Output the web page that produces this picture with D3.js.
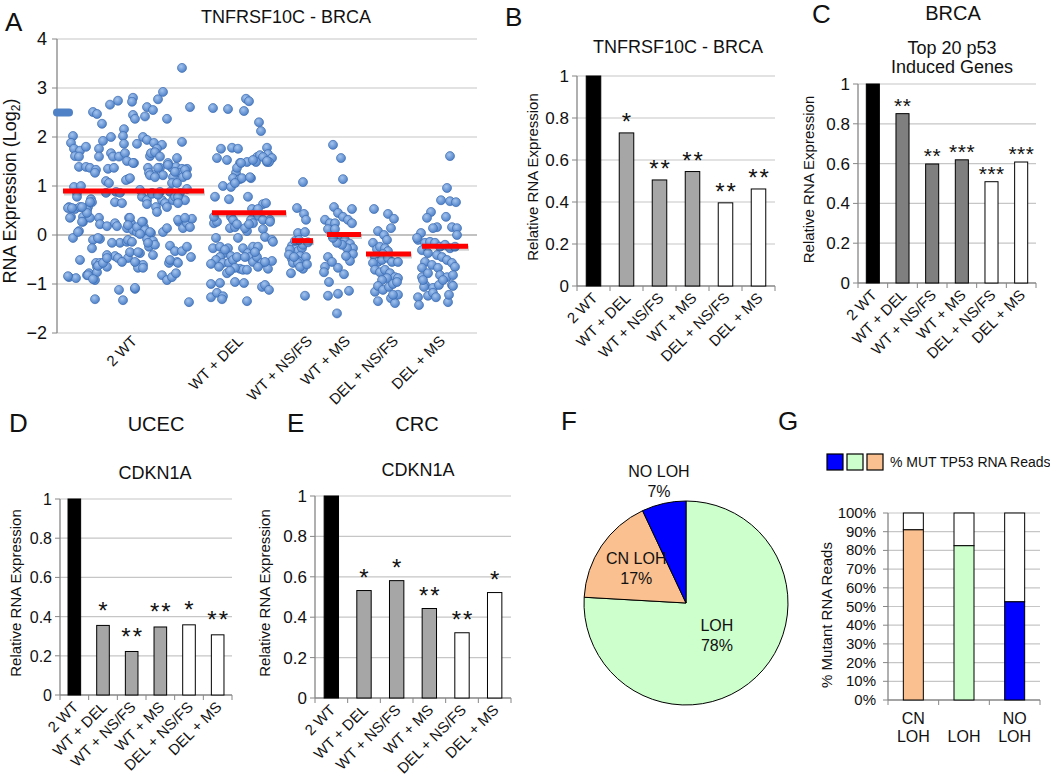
<!DOCTYPE html>
<html><head><meta charset="utf-8">
<script src="https://cdn.jsdelivr.net/npm/d3@7"></script>
<style>body{margin:0;background:#fff}svg{display:block}</style>
</head><body><svg id="c" width="1050" height="782"></svg>
<script>
// ---------------- DATA ----------------
const categories = ["2 WT","WT + DEL","WT + NS/FS","WT + MS","DEL + NS/FS","DEL + MS"];

// Panel A: scatter points [sample position, log2 expression]
const ptsWT2 = [[132,3.41],[113,2.92],[108,2.77],[83,2.80],[82,2.72],[68,2.74],[60,2.66],[140,2.61],[97,2.61],[103,2.55],[43,2.51],[47,2.47],[83,2.45],[85,2.37],[95,2.42],[117,2.37],[52,2.27],[74,2.16],[23,2.02],[61,2.0],[73,2.02],[93,2.0],[97,1.94],[21,1.88],[53,1.92],[74,1.86],[87,1.86],[104,1.88],[112,1.84],[107,1.76],[132,1.90],[24,1.76],[30,1.72],[36,1.80],[49,1.76],[49,1.60],[61,1.67],[63,1.60],[69,1.60],[75,1.67],[77,1.51],[84,1.47],[25,1.61],[29,1.60],[100,1.61],[101,1.67],[105,1.69],[110,1.60],[127,1.57],[118,1.47],[122,1.37],[126,1.39],[29,1.39],[36,1.39],[40,1.37],[46,1.33],[45,1.27],[58,1.35],[64,1.37],[98,1.37],[99,1.27],[104,1.22],[110,1.37],[137,1.35],[132,1.35],[130,1.27],[113,1.22],[123,1.18],[133,1.18],[78,1.14],[76,1.12],[56,1.10],[59,1.06],[122,1.06],[127,1.06],[24,0.98],[31,1.0],[27,0.86],[56,0.86],[66,0.88],[70,0.86],[90,0.92],[102,0.86],[110,0.88],[120,0.88],[130,0.86],[137,0.94],[27,0.78],[92,0.78],[97,0.71],[135,0.71],[41,0.73],[42,0.67],[65,0.67],[72,0.65],[97,0.63],[112,0.71],[115,0.65],[117,0.57],[123,0.71],[125,0.78],[19,0.57],[25,0.53],[30,0.57],[38,0.57],[37,0.51],[106,0.57],[107,0.47],[21,0.37],[33,0.37],[33,0.27],[40,0.35],[37,0.45],[49,0.35],[50,0.22],[57,0.18],[65,0.24],[67,0.18],[79,0.35],[81,0.24],[93,0.27],[94,0.16],[89,0.12],[77,0.14],[83,0.10],[87,0.06],[129,0.27],[133,0.14],[137,0.24],[142,0.33],[140,0.16],[29,0.08],[101,0.04],[113,0.06],[23,-0.06],[43,-0.10],[50,-0.08],[70,-0.16],[77,-0.14],[97,-0.08],[103,-0.12],[99,-0.24],[105,-0.20],[42,-0.27],[120,-0.22],[125,-0.33],[132,-0.33],[137,-0.24],[65,-0.43],[68,-0.47],[57,-0.41],[103,-0.41],[30,-0.51],[78,-0.47],[72,-0.55],[90,-0.37],[141,-0.45],[46,-0.57],[47,-0.65],[50,-0.57],[57,-0.65],[87,-0.59],[93,-0.61],[88,-0.67],[119,-0.57],[127,-0.55],[37,-0.82],[39,-0.78],[47,-0.76],[45,-0.92],[19,-0.86],[26,-0.88],[112,-0.82],[117,-0.92],[122,-0.86],[126,-0.78],[45,-1.31],[69,-1.12],[73,-1.33],[85,-1.10],[139,-1.37],
 [108,1.37],[118,1.43],[125,1.29],[135,1.33],[137,1.22],[100,1.22],[105,1.18],[83,1.47],[80,1.16],[102,0.84],[108,0.82],[128,0.78],[128,0.65],[128,0.31],[135,0.35],[80,0.35],[78,0.2],[87,0.16],[92,0.27],[95,0.1],[90,0.02],[100,0.06],[117,0.14],[78,-0.1],[82,-0.14],[80,-0.35],[88,-0.35],[98,-0.16],[120,-0.51],[128,-0.57],[85,-0.55],[93,-0.67],[85,-1.08],[18,0.55],[22,0.55],[32,0.57],[40,0.67],[20,0.35],[32,0.27],[28,0.06],[48,-0.06],[62,-0.16],[48,-0.63],[53,-0.57],[57,-0.47],[38,-0.82],[43,-0.9],[18,-0.84]];
const ptsWTDEL = [[196,2.78],[199,2.73],[163,2.59],[178,2.57],[194,2.53],[209,2.30],[211,2.12],[171,1.76],[182,1.78],[188,1.76],[217,1.78],[218,1.65],[167,1.57],[177,1.53],[190,1.47],[197,1.49],[207,1.59],[210,1.63],[213,1.59],[217,1.49],[222,1.57],[219,1.49],[186,1.27],[183,1.16],[190,1.14],[201,1.16],[187,1.37],[173,1.0],[181,0.98],[185,1.06],[165,0.78],[179,0.73],[198,0.78],[213,0.63],[202,0.53],[206,0.47],[208,0.39],[220,0.31],[213,0.31],[164,0.24],[167,0.27],[181,0.37],[183,0.31],[180,0.14],[185,0.16],[187,0.22],[197,0.08],[201,0.31],[203,0.24],[213,0.12],[215,-0.04],[222,-0.10],[166,-0.06],[188,-0.06],[163,-0.27],[170,-0.24],[174,-0.37],[178,-0.27],[181,-0.43],[170,-0.45],[166,-0.51],[173,-0.57],[179,-0.57],[183,-0.51],[187,-0.45],[161,-0.59],[169,-0.65],[193,-0.27],[198,-0.37],[203,-0.24],[208,-0.24],[200,-0.45],[195,-0.45],[203,-0.55],[207,-0.45],[212,-0.57],[218,-0.69],[222,-0.53],[208,-0.65],[190,-0.69],[193,-0.71],[197,-0.71],[185,-0.67],[177,-0.78],[180,-0.73],[161,-1.0],[170,-0.98],[161,-1.27],[167,-1.18],[173,-1.25],[172,-1.31],[185,-0.96],[194,-0.98],[197,-1.35],[212,-1.06],[215,-1.02],[219,-1.12],
 [217,1.51],[206,1.49],[203,1.53],[191,1.47],[192,1.16],[200,1.18],[216,0.65],[208,0.53],[220,0.27],[164,0.37],[195,0.14],[199,0.22],[223,-0.14],[175,-0.3],[215,-0.55],[205,-0.35]];
const ptsWTNS = [[253,1.08],[247,0.55],[254,0.43],[256,0.31],[248,0.04],[255,0.06],[242,-0.22],[243,-0.37],[246,-0.27],[248,-0.33],[252,-0.27],[250,-0.43],[253,-0.2],[242,-0.49],[247,-0.51],[251,-0.55],[243,-0.57],[248,-0.57],[253,-0.69],[241,-0.78],[250,-0.65],[255,-1.24],[240,-0.3],[245,-0.12],[258,-0.15],[256,-0.45],[239,-0.4],[244,-0.45],[249,-0.1],[257,-0.6]];
const ptsWTMS = [[283,1.84],[291,1.57],[293,1.14],[284,0.57],[288,0.45],[302,0.53],[293,0.37],[298,0.31],[302,0.24],[275,0.31],[280,0.24],[285,0.24],[278,0.12],[285,0.12],[290,-0.04],[295,-0.10],[300,-0.18],[303,-0.27],[297,-0.27],[292,-0.20],[287,-0.16],[283,-0.06],[303,-0.39],[300,-0.53],[296,-0.43],[278,-0.45],[275,-0.65],[274,-0.76],[282,-0.55],[288,-0.67],[294,-0.80],[279,-0.96],[278,-1.24],[288,-1.20],[299,-1.14],[287,-1.6]];
const ptsDELNS = [[324,0.53],[338,0.43],[344,0.33],[328,0.08],[334,0.0],[341,0.14],[337,-0.1],[323,-0.16],[327,-0.29],[330,-0.24],[335,-0.27],[338,-0.33],[333,-0.39],[325,-0.45],[328,-0.55],[332,-0.51],[338,-0.47],[342,-0.55],[348,-0.55],[323,-0.57],[325,-0.71],[330,-0.76],[335,-0.71],[340,-0.78],[345,-0.86],[348,-0.88],[337,-0.88],[332,-0.92],[325,-1.16],[328,-1.04],[328,-1.35],[333,-1.12],[339,-1.06],[343,-1.0],[347,-0.96],[341,-1.29],[345,-1.39],[348,-1.22],[343,-1.22]];
const ptsDELMS = [[400,1.61],[397,0.96],[391,0.71],[400,0.69],[406,0.67],[381,0.47],[377,0.35],[396,0.37],[387,0.16],[383,0.14],[402,0.16],[407,0.14],[407,0.0],[368,-0.1],[371,0.04],[367,-0.06],[375,-0.16],[380,-0.14],[385,-0.16],[390,-0.24],[395,-0.2],[400,-0.27],[405,-0.24],[372,-0.31],[378,-0.37],[387,-0.41],[392,-0.45],[397,-0.51],[402,-0.57],[405,-0.65],[375,-0.55],[382,-0.61],[388,-0.67],[372,-0.67],[372,-0.86],[378,-0.78],[390,-0.82],[397,-0.86],[403,-0.82],[402,-1.02],[375,-1.02],[383,-1.08],[368,-1.27],[369,-1.43],[374,-1.06],[378,-1.24],[383,-1.18],[386,-1.27],[389,-1.02],[398,-1.37],[399,-1.22],[403,-1.04],[393,-0.92],[373,-0.92]];
// Panel A group means and their horizontal extents (sample position units)
const meanValsA  = [0.90, 0.455, -0.115, 0.01, -0.39, -0.23];
const meanFromA  = [13, 162, 242, 277, 316, 372];
const meanToA    = [154, 236, 263, 311, 361, 418];
const labelPosA  = [88, 194, 263, 301, 349, 396];
const yTicksA    = [-2, -1, 0, 1, 2, 3, 4];

// Panels B-E: relative RNA expression
const valsB  = [1, 0.729, 0.505, 0.545, 0.396, 0.462];
const starsB = ["", "*", "**", "**", "**", "**"];
const valsC  = [1, 0.851, 0.598, 0.619, 0.509, 0.608];
const starsC = ["", "**", "**", "***", "***", "***"];
const valsD  = [1, 0.355, 0.222, 0.347, 0.358, 0.307];
const starsD = ["", "*", "**", "**", "*", "**"];
const valsE  = [1, 0.532, 0.581, 0.443, 0.323, 0.522];
const starsE = ["", "*", "*", "**", "**", "*"];
const yTicksBar = [0, 0.2, 0.4, 0.6, 0.8, 1];

// Panel F: LOH status pie
const pieNames  = ["LOH", "CN LOH", "NO LOH"];
const pieValues = [75.9, 17.1, 7.0];
const pieLabels = ["78%", "17%", "7%"];

// Panel G: % mutant RNA reads
const gCats   = ["CN LOH", "LOH", "NO LOH"];
const gValues = [0.91, 0.825, 0.525];
const yTicksG = [0,0.1,0.2,0.3,0.4,0.5,0.6,0.7,0.8,0.9,1];

// ---------------- DRAW ----------------
const FONT = "'Liberation Sans', Arial, Helvetica, sans-serif";
const AX = "#868686", GR = "#c6c6c6", TX = "#111";
const svg = d3.select("#c").style("font-family", FONT);
svg.append("rect").attr("width",1050).attr("height",782).attr("fill","#fff");

const defs = svg.append("defs");
const rg = defs.append("radialGradient").attr("id","dot").attr("cx","40%").attr("cy","35%").attr("r","65%");
rg.append("stop").attr("offset","0%").attr("stop-color","#a4c4ee");
rg.append("stop").attr("offset","100%").attr("stop-color","#4d80c8");

function text(g, x, y, s, fs, anchor) {
  return g.append("text").attr("x",x).attr("y",y).attr("font-size",fs)
    .attr("text-anchor",anchor||"middle").attr("fill",TX).text(s);
}
function vtitle(g, x, y, s, fs) {
  return g.append("text").attr("transform",`translate(${x},${y}) rotate(-90)`)
    .attr("font-size",fs).attr("text-anchor","middle").attr("fill",TX).text(s);
}
// panel letters
[["A",5,31],["B",505,26],["C",812,23],["D",9,432],["E",287,432],["F",561,430],["G",778,430]]
  .forEach(([s,x,y]) => text(svg,x,y,s,26,"start"));

// ----- Panel A -----
(function(){
  const g = svg.append("g");
  const x = d3.scaleLinear([7, 427], [57, 477]);
  const y = d3.scaleLinear([-2, 4], [333, 39]);
  yTicksA.forEach(t => {
    g.append("line").attr("x1",57).attr("x2",477).attr("y1",y(t)).attr("y2",y(t))
      .attr("stroke", t===0 ? AX : GR).attr("stroke-width",1.2);
    g.append("line").attr("x1",52).attr("x2",57).attr("y1",y(t)).attr("y2",y(t)).attr("stroke",AX);
    text(g, 47, y(t)+6, d3.format("")(t), 18, "end");
  });
  g.append("line").attr("x1",57).attr("x2",57).attr("y1",y(4)).attr("y2",y(-2)).attr("stroke",AX).attr("stroke-width",1.3);
  text(g, 286, 23, "TNFRSF10C - BRCA", 18);
  const t = g.append("text").attr("transform","translate(16,191) rotate(-90)").attr("font-size",18)
    .attr("text-anchor","middle").attr("fill",TX);
  t.append("tspan").text("RNA Expression (Log");
  t.append("tspan").attr("font-size",12).attr("dy",4).text("2");
  t.append("tspan").attr("dy",-4).text(")");
  // stray marker seen at left edge of the plot
  g.append("rect").attr("x",x(3)).attr("y",y(2.5)-4).attr("width",x(23)-x(3)).attr("height",8)
    .attr("rx",4).attr("fill","#4f81c6");
  const all = [].concat(ptsWT2, ptsWTDEL, ptsWTNS, ptsWTMS, ptsDELNS, ptsDELMS);
  g.selectAll("circle.p").data(all).join("circle").attr("class","p")
    .attr("cx", d => x(d[0])).attr("cy", d => y(d[1])).attr("r",4.5)
    .attr("fill","url(#dot)").attr("stroke","#3d6db2").attr("stroke-width",0.7);
  meanValsA.forEach((v,i) => {
    g.append("line").attr("x1",x(meanFromA[i])+1).attr("x2",x(meanToA[i])+1).attr("y1",y(v)+2).attr("y2",y(v)+2)
      .attr("stroke","rgba(0,0,0,0.18)").attr("stroke-width",5);
    g.append("line").attr("x1",x(meanFromA[i])).attr("x2",x(meanToA[i])).attr("y1",y(v)).attr("y2",y(v))
      .attr("stroke","#ff0000").attr("stroke-width",5);
  });
  categories.forEach((c,i) => {
    g.append("text").attr("transform",`translate(${x(labelPosA[i])},342) rotate(-45)`)
      .attr("font-size",15).attr("text-anchor","end").attr("fill",TX).text(c);
  });
})();

// ----- Bar panels -----
function barPanel(cfg) {
  const g = svg.append("g");
  const y = d3.scaleLinear([0, 1], [cfg.bottom, cfg.top]);
  const x = d3.scaleBand(categories, [cfg.left, cfg.right]);
  const step = x.step(), bw = step * 0.44;
  yTicksBar.forEach(t => {
    if (t > 0) g.append("line").attr("x1",cfg.left).attr("x2",cfg.right).attr("y1",y(t)).attr("y2",y(t))
      .attr("stroke",GR).attr("stroke-width",1.2);
    g.append("line").attr("x1",cfg.left-5).attr("x2",cfg.left).attr("y1",y(t)).attr("y2",y(t)).attr("stroke",AX);
    text(g, cfg.left-8, y(t)+6, d3.format("")(t), cfg.tickFs, "end");
  });
  g.append("line").attr("x1",cfg.left).attr("x2",cfg.left).attr("y1",cfg.top).attr("y2",cfg.bottom).attr("stroke",AX).attr("stroke-width",1.3);
  g.append("line").attr("x1",cfg.left).attr("x2",cfg.right).attr("y1",cfg.bottom).attr("y2",cfg.bottom).attr("stroke",AX).attr("stroke-width",1.3);
  d3.range(categories.length+1).forEach(i => {
    const xx = cfg.left + i*step;
    g.append("line").attr("x1",xx).attr("x2",xx).attr("y1",cfg.bottom).attr("y2",cfg.bottom+5).attr("stroke",AX);
  });
  g.selectAll("rect.b").data(cfg.vals).join("rect").attr("class","b")
    .attr("x",(d,i) => x(categories[i]) + (step-bw)/2).attr("width",bw)
    .attr("y", d => y(d)).attr("height", d => cfg.bottom - y(d))
    .attr("fill",(d,i) => cfg.fills[i]).attr("stroke","#000").attr("stroke-width",1);
  cfg.stars.forEach((s,i) => {
    if (!s) return;
    g.append("text").attr("x", x(categories[i]) + step/2 + cfg.starLS/2).attr("y", y(cfg.vals[i]) - cfg.starGap)
      .attr("font-size",cfg.starFs).attr("letter-spacing",cfg.starLS).attr("text-anchor","middle").attr("fill",TX).text(s);
  });
  categories.forEach(c => {
    g.append("text").attr("transform",`translate(${x(c)+step/2+5},${cfg.bottom+13}) rotate(-45)`)
      .attr("font-size",cfg.labFs).attr("text-anchor","end").attr("fill",TX).text(c);
  });
  vtitle(g, cfg.ytx, (cfg.top+cfg.bottom)/2 - 4, "Relative RNA Expression", 15);
  return g;
}
const grayL = "#a6a6a6", grayD = "#7f7f7f";
const gB = barPanel({left:577,right:775,top:76,bottom:286,vals:valsB,stars:starsB,
  fills:["#000",grayL,grayL,grayL,"#fff","#fff"],tickFs:17,labFs:15,starFs:24,starLS:2,starGap:2.5,ytx:538});
text(gB, 678, 53, "TNFRSF10C - BRCA", 18);
const gC = barPanel({left:858,right:1036,top:84,bottom:283,vals:valsC,stars:starsC,
  fills:["#000",grayD,grayD,grayD,"#fff","#fff"],tickFs:17,labFs:15,starFs:21,starLS:0.5,starGap:1,ytx:814});
text(gC, 953, 20, "BRCA", 20);
text(gC, 952, 54, "Top 20 p53", 18);
text(gC, 952, 73, "Induced Genes", 18);
const gD = barPanel({left:60,right:232,top:499,bottom:695,vals:valsD,stars:starsD,
  fills:["#000",grayL,grayL,grayL,"#fff","#fff"],tickFs:16,labFs:15,starFs:24,starLS:2,starGap:6.5,ytx:21});
text(gD, 156, 431, "UCEC", 20);
text(gD, 155, 479, "CDKN1A", 18);
const gE = barPanel({left:315,right:511,top:496,bottom:698,vals:valsE,stars:starsE,
  fills:["#000",grayL,grayL,grayL,"#fff","#fff"],tickFs:17,labFs:15,starFs:24,starLS:2,starGap:4.5,ytx:270});
text(gE, 417, 431, "CRC", 20);
text(gE, 418, 476, "CDKN1A", 18);

// ----- Panel F: pie -----
(function(){
  const g = svg.append("g").attr("transform","translate(686,603)");
  const R = 102;
  const colors = ["#ccffcc", "#fac090", "#0000ff"];
  const arcs = d3.pie().sort(null).value(d => d)(pieValues);
  const arc = d3.arc().innerRadius(0).outerRadius(R);
  g.selectAll("path").data(arcs).join("path").attr("d",arc)
    .attr("fill",(d,i) => colors[i]).attr("stroke","#000").attr("stroke-width",1);
  const labR = [90, 120, 248];
  arcs.forEach((a,i) => {
    const c = d3.arc().innerRadius(0).outerRadius(labR[i]).centroid(a);
    text(g, c[0], c[1]-5, pieNames[i], 16);
    text(g, c[0], c[1]+15, pieLabels[i], 16);
  });
})();

// ----- Panel G: stacked % bars -----
(function(){
  const g = svg.append("g");
  const L = 888, Rr = 1040, T = 513, B = 700;
  const y = d3.scaleLinear([0,1],[B,T]);
  const x = d3.scaleBand(gCats,[L,Rr]);
  const step = x.step(), bw = 20;
  const colors = ["#fac090","#ccffcc","#0000ff"];
  yTicksG.forEach(t => {
    if (t > 0) g.append("line").attr("x1",L).attr("x2",Rr).attr("y1",y(t)).attr("y2",y(t)).attr("stroke",GR).attr("stroke-width",1.2);
    g.append("line").attr("x1",L-5).attr("x2",L).attr("y1",y(t)).attr("y2",y(t)).attr("stroke",AX);
    text(g, L-12, y(t)+5, d3.format(".0%")(t), 15, "end");
  });
  g.append("line").attr("x1",L).attr("x2",L).attr("y1",T).attr("y2",B).attr("stroke",AX).attr("stroke-width",1.3);
  g.append("line").attr("x1",L).attr("x2",Rr).attr("y1",B).attr("y2",B).attr("stroke",AX).attr("stroke-width",1.3);
  d3.range(gCats.length+1).forEach(i => {
    g.append("line").attr("x1",L+i*step).attr("x2",L+i*step).attr("y1",B).attr("y2",B+5).attr("stroke",AX);
  });
  gValues.forEach((v,i) => {
    const xx = x(gCats[i]) + (step-bw)/2;
    g.append("rect").attr("x",xx).attr("width",bw).attr("y",y(1)).attr("height",y(v)-y(1))
      .attr("fill","#fff").attr("stroke","#000");
    g.append("rect").attr("x",xx).attr("width",bw).attr("y",y(v)).attr("height",B-y(v))
      .attr("fill",colors[i]).attr("stroke","#000");
  });
  gCats.forEach(c => {
    const parts = c.split(" ");
    const cx = x(c) + step/2;
    if (parts.length === 2) { text(g, cx, 724, parts[0], 16); text(g, cx, 742, parts[1], 16); }
    else text(g, cx, 742, c, 16);
  });
  vtitle(g, 832, 615, "% Mutant RNA Reads", 15);
  ["#0000ff","#ccffcc","#fac090"].forEach((c,i) => {
    g.append("rect").attr("x",827+i*20).attr("y",454).attr("width",16).attr("height",16)
      .attr("fill",c).attr("stroke","#000").attr("stroke-width",1.2);
  });
  text(g, 890, 467, "% MUT TP53 RNA Reads", 14, "start");
})();
</script></body></html>
